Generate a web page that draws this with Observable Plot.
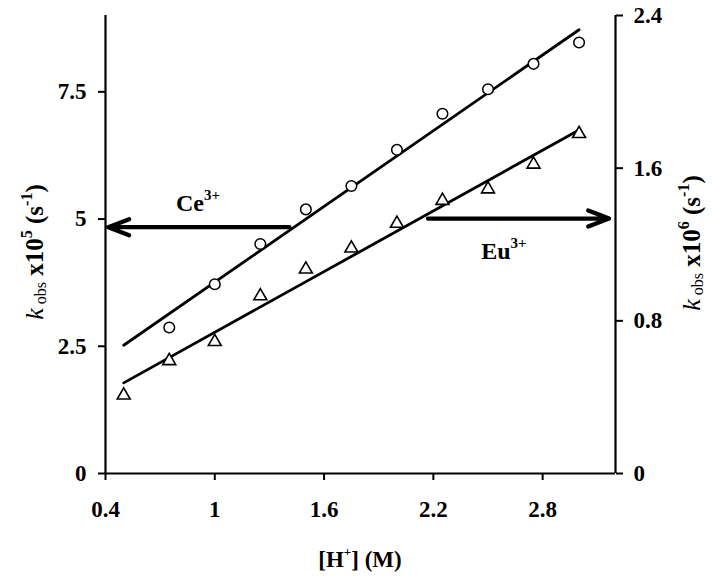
<!DOCTYPE html>
<html><head><meta charset="utf-8">
<script src="https://cdn.jsdelivr.net/npm/d3@7"></script>
<script src="https://cdn.jsdelivr.net/npm/@observablehq/plot@0.6"></script>
<style>
body{margin:0;background:#fff}
svg{font-family:"Liberation Serif","Times New Roman",serif}
</style>
</head><body><div id="chart"></div>
<script>
// [H+] (M) values
const hCe = [0.75, 1.0, 1.25, 1.5, 1.75, 2.0, 2.25, 2.5, 2.75, 3.0];
const kCe = [2.87, 3.72, 4.51, 5.19, 5.65, 6.36, 7.07, 7.55, 8.05, 8.47];   // left axis, x10^5
const hEu = [0.5, 0.75, 1.0, 1.25, 1.5, 1.75, 2.0, 2.25, 2.5, 2.75, 3.0];
const kEu = [0.41, 0.59, 0.69, 0.93, 1.07, 1.18, 1.31, 1.43, 1.49, 1.62, 1.78]; // right axis, x10^6
// fitted lines
const fitH = [0.5, 3.0];
const fitCe = [2.52, 8.72];
const fitEu = [0.475, 1.80];
// ticks
const xTicks = [0.4, 1, 1.6, 2.2, 2.8];
const leftTicks = [0, 2.5, 5, 7.5];
const rightTicks = [0, 0.8, 1.6, 2.4];
const xDomain = [0.4, 3.2];
const leftDomain = [0, 9];
const rightDomain = [0, 2.4];
// annotations (left-axis units)
const arrowCe = {x1: 1.41, x2: 0.415, y: 4.84};
const arrowEu = {x1: 2.17, x2: 3.165, y: 5.01};
const labelCe = {x: 0.79, y: 5.14, base: "Ce", sup: "3+"};
const labelEu = {x: 2.465, y: 4.2, base: "Eu", sup: "3+"};

const ratio = leftDomain[1] / rightDomain[1];
const FONT = '"Liberation Serif","Times New Roman",serif';

const ceData = hCe.map((h, i) => ({h, k: kCe[i]}));
const euData = hEu.map((h, i) => ({h, k: kEu[i]}));
const ceFit = fitH.map((h, i) => ({h, k: fitCe[i]}));
const euFit = fitH.map((h, i) => ({h, k: fitEu[i]}));

const axisText = {fontSize: 23, fontWeight: "bold", fontFamily: FONT};

const plot = Plot.plot({
  width: 712, height: 584,
  marginLeft: 105, marginRight: 97, marginTop: 15, marginBottom: 111,
  style: {fontFamily: FONT, background: "white", color: "black"},
  x: {domain: xDomain},
  y: {domain: leftDomain},
  marks: [
    Plot.ruleX([xDomain[0]], {y1: leftDomain[0], y2: leftDomain[1], strokeWidth: 2.2}),
    Plot.ruleX([xDomain[1]], {y1: leftDomain[0], y2: leftDomain[1], strokeWidth: 2.2}),
    Plot.ruleY([0], {x1: xDomain[0], x2: xDomain[1], strokeWidth: 2.2}),
    Plot.axisX({ticks: xTicks, tickSize: 7, tickPadding: 20, strokeWidth: 2, label: null,
      tickFormat: d => String(d), ...axisText}),
    Plot.axisY({ticks: leftTicks, anchor: "left", tickSize: 7, tickPadding: 12, strokeWidth: 2, label: null,
      tickFormat: d => String(d), ...axisText}),
    Plot.axisY({ticks: rightTicks.map(v => v * ratio), anchor: "right", tickSize: 7, tickPadding: 11, strokeWidth: 2, label: null,
      tickFormat: d => String(Math.round(d / ratio * 10) / 10), ...axisText}),
    Plot.line(ceFit, {x: "h", y: "k", strokeWidth: 2.8, stroke: "black"}),
    Plot.line(euFit, {x: "h", y: d => d.k * ratio, strokeWidth: 2.8, stroke: "black"}),
    Plot.dot(ceData, {x: "h", y: "k", symbol: "circle", r: 5.3, stroke: "black", fill: "white", strokeWidth: 1.5}),
    Plot.dot(euData, {x: "h", y: d => d.k * ratio, symbol: "triangle", r: 4.8, stroke: "black", fill: "white", strokeWidth: 1.6}),
    Plot.arrow([arrowCe, arrowEu], {x1: "x1", x2: "x2", y1: "y", y2: "y", strokeWidth: 4.2, headLength: 8, headAngle: 42, stroke: "black"})
  ]
});
document.getElementById("chart").append(plot);

const svg = d3.select(plot);
const sx = plot.scale("x"), sy = plot.scale("y");

function richText(parent, segs, attrs) {
  const t = parent.append("text").attr("fill", "black").attr("font-family", FONT);
  for (const [k, v] of Object.entries(attrs)) t.attr(k, v);
  for (const s of segs) {
    const ts = t.append("tspan").text(s.t)
      .attr("font-size", s.size || 22)
      .attr("font-weight", s.w || "bold");
    if (s.style) ts.attr("font-style", s.style);
    if (s.dy) ts.attr("dy", s.dy);
  }
  return t;
}

// series labels
for (const L of [labelCe, labelEu]) {
  richText(svg, [
    {t: L.base, size: 24},
    {t: L.sup, size: 15, dy: -11}
  ], {x: sx.apply(L.x), y: sy.apply(L.y), "text-anchor": "start"});
}

// x-axis title
richText(svg, [
  {t: "[H", size: 23},
  {t: "+", size: 13, dy: -11},
  {t: "] (M)", size: 23, dy: 11}
], {x: 360, y: 567, "text-anchor": "middle"});

// y-axis titles
function yTitle(x, y, exp) {
  return richText(svg, [
    {t: "k", size: 26, w: "normal", style: "italic"},
    {t: " obs", size: 16, w: "normal", dy: 3},
    {t: " x10", size: 25, dy: -3},
    {t: exp, size: 16, dy: -11},
    {t: " (s", size: 25, dy: 11},
    {t: "-1", size: 16, dy: -11},
    {t: ")", size: 25, dy: 11}
  ], {transform: `translate(${x},${y}) rotate(-90)`, "text-anchor": "middle"});
}
yTitle(43, 252, "5");
yTitle(700, 243, "6");
</script>
</body></html>
